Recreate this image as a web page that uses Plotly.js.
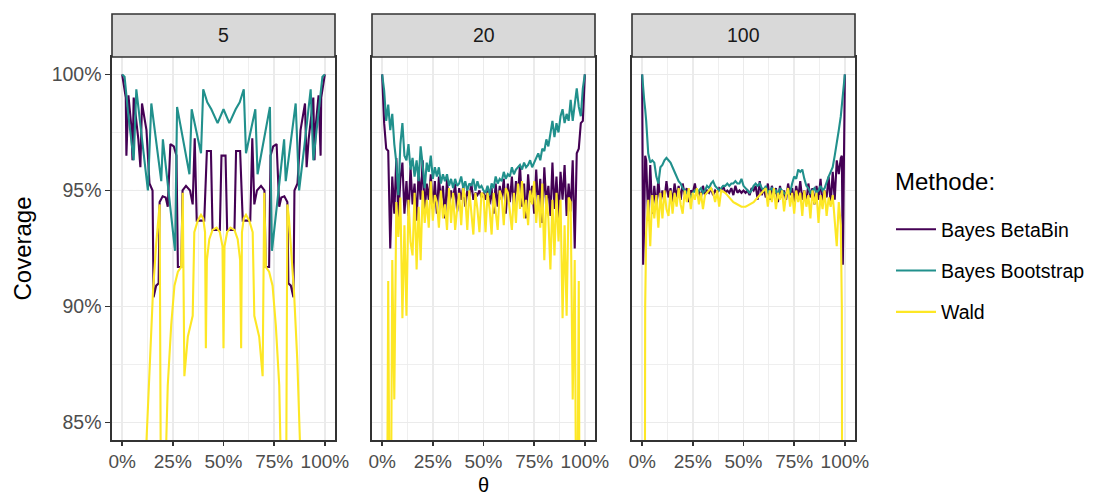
<!DOCTYPE html>
<html>
<head>
<meta charset="utf-8">
<script src="https://cdn.plot.ly/plotly-3.0.1.min.js"></script>
<style>html,body{margin:0;padding:0;background:#fff;}#chart{width:1114px;height:497px;}</style>
</head>
<body>
<div id="chart"></div>
<script>
// ---------- DATA ----------
const panels = ["5", "20", "100"];
const methods = ["Bayes BetaBin", "Bayes Bootstrap", "Wald"];
const methodColors = ["#440154", "#21908C", "#FDE725"];

// Panel n = 5 (theta, coverage in %)
const theta5_betabin = [0,0.018,0.021,0.031,0.045,0.051,0.057,0.08,0.09,0.098,0.12,0.135,0.15,0.155,0.168,0.18,0.185,0.2,0.215,0.225,0.238,0.255,0.268,0.275,0.292,0.298,0.315,0.335,0.348,0.358,0.368,0.405,0.418,0.438,0.446,0.482,0.49,0.51,0.518,0.554,0.562,0.582,0.595,0.632,0.642,0.652,0.665,0.685,0.702,0.708,0.725,0.732,0.745,0.762,0.775,0.785,0.8,0.815,0.82,0.832,0.845,0.85,0.865,0.88,0.902,0.91,0.92,0.943,0.949,0.955,0.969,0.979,0.982,1];
const cov5_betabin = [100,99.0,96.5,99.1,97.8,96.3,99.0,97.2,96.0,98.75,97.6,95.3,95.0,90.4,90.9,91.0,94.5,94.75,94.7,94.3,97.0,96.9,96.5,91.7,91.7,95.0,95.2,95.0,94.4,97.25,93.7,93.7,96.7,96.7,93.3,93.3,96.5,96.5,93.3,93.3,96.7,96.7,93.7,93.7,97.25,94.4,95.0,95.2,95.0,91.7,91.7,96.5,96.9,97.0,94.3,94.7,94.75,94.5,91.0,90.9,90.4,95.0,95.3,97.6,98.75,96.0,97.2,99.0,96.3,97.8,99.1,96.5,99.0,100];

const theta5_bootstrap = [0,0.012,0.03,0.057,0.07,0.1,0.127,0.144,0.193,0.201,0.261,0.271,0.332,0.343,0.389,0.4,0.42,0.44,0.471,0.5,0.529,0.56,0.58,0.6,0.611,0.657,0.668,0.729,0.739,0.799,0.807,0.856,0.873,0.9,0.93,0.943,0.97,0.988,1];
const cov5_bootstrap = [100,99.9,98.3,96.3,99.36,97.0,95.0,98.75,95.4,97.2,92.4,98.6,95.7,98.5,96.6,99.36,98.8,98.5,97.9,98.5,97.9,98.5,98.8,99.36,96.6,98.5,95.7,98.6,92.4,97.2,95.4,98.75,95.0,97.0,99.36,96.3,98.3,99.9,100];

const theta5_wald = [0,0.05,0.1,0.119,0.136,0.152,0.168,0.178,0.185,0.192,0.205,0.217,0.225,0.242,0.258,0.275,0.291,0.299,0.307,0.324,0.34,0.348,0.356,0.373,0.389,0.4,0.409,0.413,0.418,0.43,0.446,0.466,0.482,0.495,0.5,0.505,0.518,0.534,0.554,0.57,0.582,0.587,0.591,0.6,0.611,0.627,0.644,0.652,0.66,0.676,0.693,0.701,0.709,0.725,0.742,0.758,0.775,0.783,0.795,0.808,0.815,0.822,0.832,0.848,0.864,0.881,0.9,0.95,1];
const cov5_wald = [0,40,78,84.0,87.7,90.6,92.7,93.9,94.4,80,78,84.0,86.6,89.2,90.9,91.5,91.7,94.9,87.0,88.7,89.3,89.6,93.2,93.7,93.95,93.8,93.2,88.2,92.0,92.9,93.3,93.4,93.2,92.6,88.2,92.6,93.2,93.4,93.3,92.9,92.0,88.2,93.2,93.8,93.95,93.7,93.2,89.6,89.3,88.7,87.0,94.9,91.7,91.5,90.9,89.2,86.6,84.0,78,80,94.4,93.9,92.7,90.6,87.7,84.0,78,40,0];

// Panel n = 20
const theta20 = [0,0.01,0.02,0.03,0.04,0.05,0.06,0.07,0.08,0.09,0.1,0.11,0.12,0.13,0.14,0.15,0.16,0.17,0.18,0.19,0.2,0.21,0.22,0.23,0.24,0.25,0.26,0.27,0.28,0.29,0.3,0.31,0.32,0.33,0.34,0.35,0.36,0.37,0.38,0.39,0.4,0.41,0.42,0.43,0.44,0.45,0.46,0.47,0.48,0.49,0.5,0.51,0.52,0.53,0.54,0.55,0.56,0.57,0.58,0.59,0.6,0.61,0.62,0.63,0.64,0.65,0.66,0.67,0.68,0.69,0.7,0.71,0.72,0.73,0.74,0.75,0.76,0.77,0.78,0.79,0.8,0.81,0.82,0.83,0.84,0.85,0.86,0.87,0.88,0.89,0.9,0.91,0.92,0.93,0.94,0.95,0.96,0.97,0.98,0.99,1];
const cov20_betabin = [100,97.9,96.8,96.7,92.5,95.6,94.0,96.4,93.8,95.5,96.2,94.0,95.4,93.9,96.0,94.4,95.3,93.7,95.8,94.6,96.3,94.1,95.3,94.6,95.7,94.2,95.4,94.0,95.6,94.5,95.2,93.8,95.5,94.3,95.0,94.6,95.3,94.1,95.1,94.6,95.2,94.3,95.0,94.7,95.3,94.6,94.9,94.8,95.0,94.7,94.9,94.6,95.0,94.4,95.1,94.0,95.3,94.3,95.2,94.6,95.5,94.0,95.3,94.5,95.6,94.2,95.4,94.8,96.1,94.3,95.3,93.8,95.7,94.5,95.2,94.0,95.9,94.2,95.5,93.6,96.0,94.4,95.2,93.9,96.2,94.2,95.6,93.8,95.8,94.6,96.1,93.9,95.3,94.1,96.3,92.5,96.6,96.8,97.9,98.0,100];
const cov20_bootstrap = [100,99.3,98.0,98.7,97.6,98.3,97.0,96.2,94.8,97.0,97.9,96.5,96.3,97.0,95.9,96.4,95.6,96.3,95.4,96.9,96.1,95.1,96.2,95.8,96.5,95.5,96.0,95.6,96.0,95.3,95.7,95.4,95.7,95.2,95.5,95.1,95.5,95.2,95.3,95.6,95.1,95.4,95.0,95.3,95.2,95.5,95.0,95.4,95.1,95.2,95.0,94.9,95.2,94.8,95.3,95.1,95.6,95.3,95.5,95.4,95.8,95.5,95.7,95.6,96.0,95.7,95.9,96.0,96.1,95.9,96.2,96.0,96.1,96.3,96.0,96.2,96.4,96.6,96.3,96.8,96.7,97.2,96.9,97.4,98.0,97.3,97.9,97.5,98.2,98.5,97.9,98.3,98.0,98.9,98.0,98.7,99.4,98.6,98.2,99.4,100];
const cov20_wald = [0,40,72,91.1,75,92.0,86.0,94.5,93.0,94.7,89.5,93.5,89.6,94.6,92.8,92.2,94.9,91.6,94.3,92.0,95.0,93.6,94.6,93.4,95.4,93.7,94.8,94.5,93.4,95.0,93.8,94.4,93.3,95.1,93.6,94.9,93.3,94.2,94.9,93.5,95.1,94.7,93.3,95.0,94.1,93.1,94.9,94.2,93.2,94.9,94.8,93.2,94.9,94.2,93.1,94.9,94.1,93.3,95.0,94.7,93.5,95.1,94.9,94.2,93.3,94.9,93.6,95.3,94.2,95.4,93.8,94.6,93.5,95.0,94.4,95.4,93.6,94.8,93.4,95.3,92.0,94.8,93.8,91.6,94.6,92.2,94.9,92.8,94.6,89.5,93.5,89.6,94.7,94.5,86.0,92.0,76,91.1,72,45,0];

// Panel n = 100
const theta100 = [0,0.005,0.01,0.015,0.02,0.03,0.04,0.05,0.06,0.07,0.08,0.09,0.1,0.11,0.12,0.13,0.14,0.15,0.16,0.17,0.18,0.19,0.2,0.21,0.22,0.23,0.24,0.25,0.26,0.27,0.28,0.29,0.3,0.31,0.32,0.33,0.34,0.35,0.36,0.37,0.38,0.39,0.4,0.41,0.42,0.43,0.44,0.45,0.46,0.47,0.48,0.49,0.5,0.51,0.52,0.53,0.54,0.55,0.56,0.57,0.58,0.59,0.6,0.61,0.62,0.63,0.64,0.65,0.66,0.67,0.68,0.69,0.7,0.71,0.72,0.73,0.74,0.75,0.76,0.77,0.78,0.79,0.8,0.81,0.82,0.83,0.84,0.85,0.86,0.87,0.88,0.89,0.9,0.91,0.92,0.93,0.94,0.95,0.96,0.97,0.98,0.985,0.99,0.995,1];
const cov100_betabin = [100,91.8,93.5,96.5,96.3,93.7,96.1,94.0,95.2,94.2,95.5,94.4,95.0,94.6,95.4,94.7,95.1,94.5,95.3,94.7,95.2,94.6,95.3,94.8,95.1,94.5,95.0,94.9,95.3,94.8,95.0,94.7,95.2,94.8,95.0,94.9,95.1,94.8,95.0,94.9,95.1,95.0,95.2,94.9,95.0,94.9,95.1,94.8,95.2,94.9,95.0,94.9,95.0,94.9,95.0,94.8,95.1,95.0,95.2,94.6,95.4,94.8,95.1,94.7,95.3,94.6,95.2,94.8,95.1,94.5,95.2,94.7,95.0,94.6,95.3,94.8,95.1,94.5,95.2,94.7,95.4,94.6,95.0,94.5,95.3,94.7,95.1,94.4,95.2,94.6,95.5,94.4,95.0,94.7,95.6,94.4,95.8,94.6,96.3,95.7,96.4,96.5,91.8,96.0,100];
const cov100_bootstrap = [100,99.2,98.9,98.5,98.0,96.6,96.2,96.3,96.2,95.6,95.3,96.0,96.1,96.3,96.4,96.3,96.2,96.0,95.8,95.6,95.4,95.3,95.1,95.0,94.9,94.8,94.7,94.9,95.0,94.8,95.0,95.1,94.9,95.0,95.2,95.1,95.3,95.4,95.2,95.1,95.0,95.1,95.2,95.2,95.3,95.2,95.3,95.3,95.4,95.3,95.3,95.5,95.2,95.1,95.0,94.9,95.0,95.2,95.3,95.2,95.3,95.1,95.0,95.2,94.9,95.0,95.1,94.9,95.0,94.8,95.1,95.0,94.9,94.8,95.0,94.9,95.3,95.6,95.5,95.9,95.8,95.9,95.5,95.2,95.1,94.9,95.0,95.1,94.9,95.0,95.2,95.0,95.1,95.4,95.6,95.8,96.0,96.5,97.0,97.6,98.2,98.7,99.0,99.5,100];
const cov100_wald = [0,30,70,90,93.2,94.6,92.6,94.8,93.8,94.8,93.4,94.9,93.8,95.0,94.2,93.9,95.0,94.0,94.9,94.3,95.1,94.4,94.0,95.0,94.5,95.1,94.2,94.9,94.6,95.1,94.4,94.9,94.2,94.8,94.9,95.0,95.1,94.9,94.5,95.0,94.3,95.0,94.95,94.9,94.8,94.7,94.6,94.5,94.45,94.4,94.35,94.3,94.3,94.3,94.35,94.4,94.45,94.5,94.6,94.7,94.8,94.9,95.0,95.1,94.3,95.0,94.5,95.1,94.2,94.9,94.6,95.0,94.1,94.8,95.1,94.3,94.9,94.0,95.0,94.5,94.9,93.9,95.0,94.3,94.8,93.8,95.0,94.4,94.9,93.6,94.8,94.2,95.0,93.9,94.7,94.3,94.8,93.8,92.6,94.5,93.5,90,70,30,0];

// ---------- FIGURE ----------
const W = 1114, H = 497;
const px = v => v / W, py = v => (H - v) / H;
const panelX = [[112, 335], [372, 595], [632, 855]];
const plotTop = 57, plotBottom = 440, stripTop = 14;

const seriesByPanel = [
  [[theta5_betabin, cov5_betabin], [theta5_bootstrap, cov5_bootstrap], [theta5_wald, cov5_wald]],
  [[theta20, cov20_betabin], [theta20, cov20_bootstrap], [theta20, cov20_wald]],
  [[theta100, cov100_betabin], [theta100, cov100_bootstrap], [theta100, cov100_wald]]
];

const traces = [];
seriesByPanel.forEach((ser, p) => {
  ser.forEach((s, m) => {
    traces.push({
      type: "scatter", mode: "lines",
      x: s[0], y: s[1],
      xaxis: p === 0 ? "x" : "x" + (p + 1),
      yaxis: p === 0 ? "y" : "y" + (p + 1),
      name: methods[m], legendgroup: methods[m], showlegend: p === 0,
      line: { color: methodColors[m], width: 2.1 },
      hoverinfo: "skip"
    });
  });
});

const font = "Liberation Sans, Arial, Helvetica, sans-serif";
const layout = {
  width: W, height: H,
  margin: { l: 0, r: 0, t: 0, b: 0 },
  paper_bgcolor: "#FFFFFF", plot_bgcolor: "#FFFFFF",
  font: { family: font, color: "#000000" },
  showlegend: true,
  legend: {
    x: px(891), y: py(210), xanchor: "left", yanchor: "top",
    font: { size: 19.5, color: "#000000", family: font },
    traceorder: "grouped", tracegroupgap: 13, itemwidth: 40,
    bgcolor: "rgba(0,0,0,0)"
  },
  shapes: [], annotations: []
};

panelX.forEach((pxr, p) => {
  const xs = p === 0 ? "xaxis" : "xaxis" + (p + 1);
  const ys = p === 0 ? "yaxis" : "yaxis" + (p + 1);
  const xr = p === 0 ? "x" : "x" + (p + 1);
  const yr = p === 0 ? "y" : "y" + (p + 1);
  layout[xs] = {
    domain: [px(pxr[0]), px(pxr[1])], anchor: yr,
    range: [-0.05, 1.05], tickvals: [0, 0.25, 0.5, 0.75, 1],
    ticktext: ["0%", "25%", "50%", "75%", "100%"],
    showgrid: true, gridcolor: "#EBEBEB", gridwidth: 1.6, zeroline: false,
    minor: { tickvals: [0.125, 0.375, 0.625, 0.875], showgrid: true, gridcolor: "#EBEBEB", gridwidth: 0.8, ticks: "" },
    showline: true, mirror: true, linecolor: "#333333", linewidth: 1.6,
    ticks: "outside", ticklen: 4, tickwidth: 1.4, tickcolor: "#333333",
    tickfont: { size: 19, color: "#4D4D4D", family: font }
  };
  layout[ys] = {
    domain: [py(plotBottom), py(plotTop)], anchor: xr,
    range: [84.25, 100.75], tickvals: [85, 90, 95, 100],
    ticktext: ["85%", "90%", "95%", "100%"],
    showticklabels: p === 0, ticks: p === 0 ? "outside" : "",
    ticklen: 5, tickwidth: 1.4, tickcolor: "#333333",
    showgrid: true, gridcolor: "#EBEBEB", gridwidth: 1.6, zeroline: false,
    minor: { tickvals: [87.5, 92.5, 97.5], showgrid: true, gridcolor: "#EBEBEB", gridwidth: 0.8, ticks: "" },
    showline: true, mirror: true, linecolor: "#333333", linewidth: 1.6,
    tickfont: { size: 19.5, color: "#4D4D4D", family: font }
  };
  // 95% reference line
  layout.shapes.push({
    type: "line", xref: "paper", yref: yr, x0: px(pxr[0]), x1: px(pxr[1]), y0: 95, y1: 95,
    line: { color: "#A0A0A0", width: 1, dash: "dot" }, layer: "below"
  });
  // strip
  layout.shapes.push({
    type: "rect", xref: "paper", yref: "paper",
    x0: px(pxr[0]), x1: px(pxr[1]), y0: py(plotTop), y1: py(stripTop),
    fillcolor: "#D9D9D9", line: { color: "#333333", width: 1.6 }, layer: "above"
  });
  layout.annotations.push({
    text: panels[p], xref: "paper", yref: "paper",
    x: px((pxr[0] + pxr[1]) / 2), y: py((stripTop + plotTop) / 2),
    xanchor: "center", yanchor: "middle", showarrow: false,
    font: { size: 19.5, color: "#1A1A1A", family: font }
  });
});

layout.annotations.push({
  text: "Methode:", xref: "paper", yref: "paper", x: px(893), y: py(182),
  xanchor: "left", yanchor: "middle", showarrow: false,
  font: { size: 24, color: "#000000", family: font }
});
layout.annotations.push({
  text: "Coverage", xref: "paper", yref: "paper", x: px(22), y: py((plotTop + plotBottom) / 2),
  textangle: -90, xanchor: "center", yanchor: "middle", showarrow: false,
  font: { size: 24, color: "#000000", family: font }
});
layout.annotations.push({
  text: "θ", xref: "paper", yref: "paper", x: px(483.5), y: 0,
  xanchor: "center", yanchor: "bottom", showarrow: false, borderpad: 0,
  font: { size: 20, color: "#000000", family: font }
});

Plotly.newPlot("chart", traces, layout, { staticPlot: true, displayModeBar: false });
</script>
</body>
</html>
